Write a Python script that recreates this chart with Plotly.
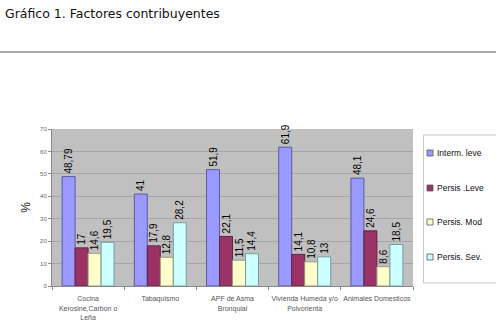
import plotly.graph_objects as go

categories = ["Cocina<br>Kerosine,Carbon o<br>Leña", "Tabaquismo", "APF de Asma<br>Bronquial",
              "Vivienda Humeda y/o<br>Polvorienta", "Animales Domesticos"]
series_names = ["Interm. leve", "Persis .Leve", "Persis. Mod", "Persis. Sev."]
interm_leve = [48.79, 41, 51.9, 61.9, 48.1]
persis_leve = [17, 17.9, 22.1, 14.1, 24.6]
persis_mod = [14.6, 12.8, 11.5, 10.8, 8.6]
persis_sev = [19.5, 28.2, 14.4, 13, 18.5]
y_ticks = [0, 10, 20, 30, 40, 50, 60, 70]

series_values = [interm_leve, persis_leve, persis_mod, persis_sev]
colors = ["#9999FF", "#993366", "#FFFFCC", "#CCFFFF"]
edges = ["#5c5c9a", "#5e2440", "#9a9a80", "#7a9a9a"]

W, H = 496, 328
L, R, T, B = 52, 83, 129, 42
PW, PH = W - L - R, H - T - B


def px(x):
    return (x - L) / PW


def py(y):
    return (H - B - y) / PH


def fmt(v):
    return f"{v:g}".replace(".", ",")


fig = go.Figure()
for i, (name, vals) in enumerate(zip(series_names, series_values)):
    fig.add_trace(go.Bar(
        x=categories, y=vals, name=name, showlegend=False,
        marker=dict(color=colors[i], line=dict(color=edges[i], width=1)),
        text=[fmt(v) for v in vals], textposition="outside", textangle=-90,
        constraintext="none", cliponaxis=False,
        textfont=dict(family="Liberation Sans, Arial", size=10, color="#000"),
    ))

# legend drawn as a bordered box with small swatches
shapes = [
    dict(type="line", xref="paper", yref="paper", x0=px(-5), x1=px(W + 5),
         y0=py(52), y1=py(52), line=dict(color="#aaaaaa", width=2)),
    dict(type="rect", xref="paper", yref="paper", x0=px(423.5), x1=px(W + 5),
         y0=py(135), y1=py(283), fillcolor="white", line=dict(color="#c8c8c8", width=1)),
]
annotations = []
legend_rows = [153, 188, 222, 257]
for i, (name, yy) in enumerate(zip(series_names, legend_rows)):
    shapes.append(dict(type="rect", xref="paper", yref="paper", x0=px(427), x1=px(433),
                       y0=py(yy + 3), y1=py(yy - 3), fillcolor=colors[i],
                       line=dict(color="#555", width=0.8)))
    annotations.append(dict(text=name, xref="paper", yref="paper", x=px(435), y=py(yy),
                            xanchor="left", yanchor="middle", showarrow=False,
                            font=dict(family="Liberation Sans, Arial", size=8.5, color="#111")))

fig.update_layout(
    width=W, height=H,
    margin=dict(l=L, r=R, t=T, b=B, autoexpand=False),
    paper_bgcolor="white", plot_bgcolor="#C0C0C0",
    barmode="group", bargap=0.28, bargroupgap=0,
    font=dict(family="Liberation Sans, Arial", color="#555"),
    title=dict(text="Gráfico 1. Factores contribuyentes", xref="container", yref="container",
               x=5 / W, y=1 - 14 / H, xanchor="left", yanchor="middle",
               font=dict(family="DejaVu Sans, Verdana", size=12.5, color="#111")),
    showlegend=False,
    xaxis=dict(showgrid=False, ticks="outside", tickson="boundaries", ticklen=3,
               tickcolor="#888", showline=True, linecolor="#888", linewidth=1,
               tickangle=0, automargin=False, ticklabelstandoff=6,
               tickfont=dict(size=7, color="#555")),
    yaxis=dict(range=[0, 70], tickvals=y_ticks, showgrid=True, gridcolor="#a6a6a6",
               gridwidth=1, ticks="outside", ticklen=3, tickcolor="#888",
               showline=True, linecolor="#888", linewidth=1, zeroline=False,
               automargin=False,
               tickfont=dict(size=6, color="#666"),
               title=dict(text="%", font=dict(size=12, color="#222"), standoff=6)),
    shapes=shapes,
    annotations=annotations,
)

fig.write_html("out.html")
